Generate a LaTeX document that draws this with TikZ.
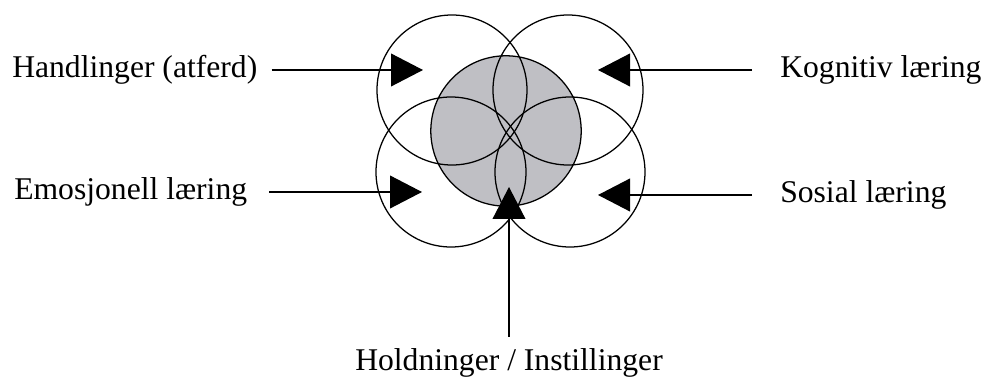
\documentclass[tikz,border=0pt]{standalone}
\usepackage{fontspec}
\setmainfont{Liberation Serif}
\usepackage{xcolor}
\definecolor{kjernegra}{RGB}{191,191,196}
\usetikzlibrary{arrows.meta,positioning}

\begin{document}
\begin{tikzpicture}[
  ring/.style={draw,line width=0.9pt},
  pil/.style={line width=0.9pt,-{Triangle[length=0.8cm,width=0.82cm]}},
  etikett/.style={font=\fontsize{22.5}{26}\selectfont,inner sep=0pt}
]
  \useasboundingbox (0,0) rectangle (24.65,9.475);
  % kjerne og de fire sirklene
  \fill[kjernegra] (12.65,6.2) circle (1.88cm);
  \draw[ring] (11.3,7.225) circle (1.875cm);
  \draw[ring] (14.2,7.225) circle (1.875cm);
  \draw[ring] (11.275,5.175) circle (1.875cm);
  \draw[ring] (14.25,5.175) circle (1.875cm);
  \draw[ring] (12.65,6.2) circle (1.88cm);
  % pilspisser
  \coordinate (tipHand) at (10.575,7.725);
  \coordinate (tipKogn) at (14.95,7.725);
  \coordinate (tipEmo) at (10.55,4.675);
  \coordinate (tipSos) at (14.95,4.6);
  \coordinate (tipHold) at (12.725,4.8);
  % etiketter
  \node[etikett,anchor=west] (hand) at (0.3,7.725) {Handlinger (atferd)};
  \node[etikett,anchor=west] (emo) at (0.35,4.675) {Emosjonell læring};
  \node[etikett,anchor=west] (kogn) at (19.5,7.725) {Kognitiv læring};
  \node[etikett,anchor=west] (sos) at (19.5,4.6) {Sosial læring};
  \node[etikett,anchor=north] (hold) at (12.725,0.76) {Holdninger / Instillinger};
  % piler
  \draw[pil,shorten <=0.35cm] (hand.east) -- (tipHand);
  \draw[pil,shorten <=0.55cm] (emo.east) -- (tipEmo);
  \draw[pil,shorten <=0.7cm] (kogn.west) -- (tipKogn);
  \draw[pil,shorten <=0.7cm] (sos.west) -- (tipSos);
  \draw[pil,shorten <=0.3cm] (hold.north) -- (tipHold);
\end{tikzpicture}
\end{document}
